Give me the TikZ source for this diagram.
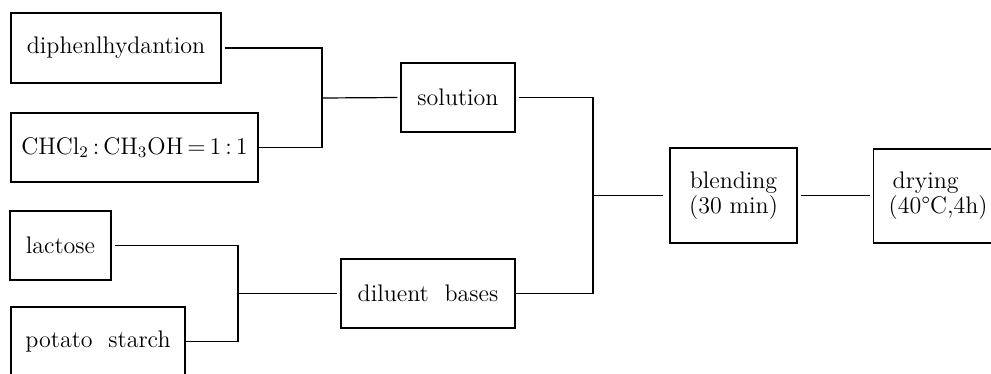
\documentclass[tikz,border=0pt]{standalone}
\usepackage{fontspec}
\begin{document}
\begin{tikzpicture}[x=0.5pt,y=-0.5pt,
  box/.style={draw,line width=0.7pt,inner sep=0pt,align=center,
    font=\fontsize{12pt}{12.5pt}\selectfont},
  conn/.style={line width=0.6pt},
  gap/.style={shorten <=1.5pt}]
\useasboundingbox (0,0) rectangle (991,374);
% boxes
\node[box,minimum width=105pt,minimum height=35pt] (dip) at (116,48) {diphenlhydantion};
\node[box,minimum width=123.5pt,minimum height=34.5pt] (chcl) at (134.5,147.5)
  {CHCl$_2$\,:\,CH$_3$OH\,=\,1\,:\,1};
\node[box,minimum width=50.5pt,minimum height=34.5pt] (lac) at (60.5,245.5) {lactose};
\node[box,minimum width=87pt,minimum height=34.5pt] (pot) at (98,341.5) {potato\ \ starch};
\node[box,minimum width=57pt,minimum height=34.5pt] (sol) at (458,97.5) {solution};
\node[box,minimum width=87pt,minimum height=34.5pt] (dil) at (428,293.5) {diluent\ \ bases};
\node[box,minimum width=63.5pt,minimum height=47.5pt] (ble) at (733.5,195.5) {blending\\(30 min)};
\node[box,anchor=west,text width=60pt,inner xsep=7.5pt,minimum height=47pt,align=left]
  (dry) at (873,196) {\hspace{2pt}drying\\(40°C,4h)};
% bar coordinates
\coordinate (b1) at (322,98);
\coordinate (b2) at (238,293.5);
\coordinate (b3) at (593,195.5);
% connectors
\draw[conn,gap] (dip.east) -- (dip.east -| b1) -- (chcl.east -| b1) -- (chcl.east);
\draw[conn,shorten >=1.5pt] (b1) -- (sol.west);
\draw[conn,gap] (lac.east) -- (lac.east -| b2) -- (pot.east -| b2) -- (pot.east);
\draw[conn,shorten >=1.5pt] (b2) -- (dil.west);
\draw[conn,gap] (sol.east) -- (sol.east -| b3) -- (dil.east -| b3) -- (dil.east);
\draw[conn,shorten >=3pt] (b3) -- (ble.west);
\draw[conn,gap,shorten >=1.5pt] (ble.east) -- (ble.east -| dry.west);
\end{tikzpicture}
\end{document}
